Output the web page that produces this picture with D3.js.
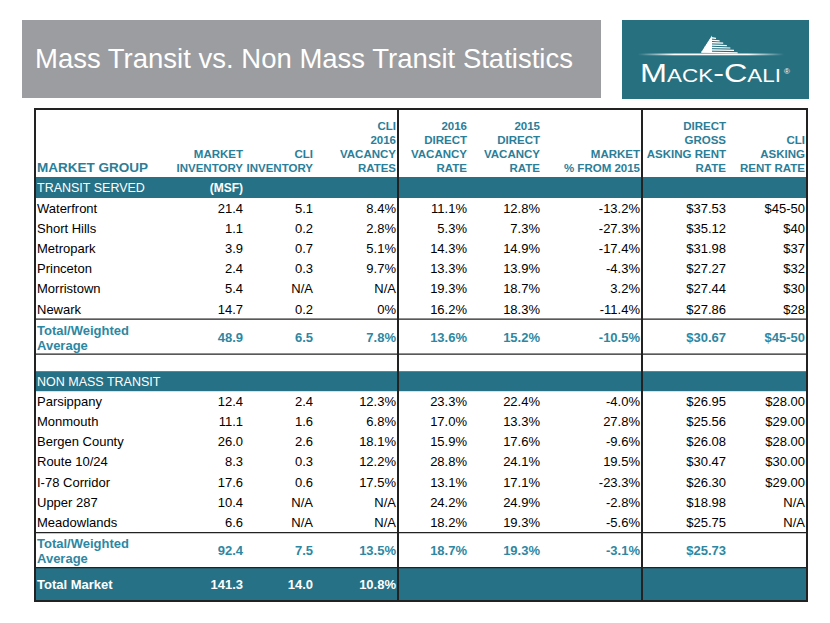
<!DOCTYPE html>
<html><head><meta charset="utf-8">
<script src="https://cdn.jsdelivr.net/npm/d3@7"></script>
<style>body{margin:0;background:#fff}svg{display:block}text{font-family:"Liberation Sans",Arial,sans-serif}</style>
</head><body><div id="c"></div>
<script>
const titleText = "Mass Transit vs. Non Mass Transit Statistics";
const columnKeys = ["mktInv","cliInv","cliVac","dir16","dir15","mktChg","grossRent","cliRent"];
const columnHeaders = [
  ["MARKET","INVENTORY"],
  ["CLI","INVENTORY"],
  ["CLI","2016","VACANCY","RATES"],
  ["2016","DIRECT","VACANCY","RATE"],
  ["2015","DIRECT","VACANCY","RATE"],
  ["MARKET","% FROM 2015"],
  ["DIRECT","GROSS","ASKING RENT","RATE"],
  ["CLI","ASKING","RENT RATE"]
];
// Transit served
const transitMarkets   = ["Waterfront","Short Hills","Metropark","Princeton","Morristown","Newark"];
const transitMktInv    = [21.4, 1.1, 3.9, 2.4, 5.4, 14.7];
const transitCliInv    = [5.1, 0.2, 0.7, 0.3, null, 0.2];
const transitCliVac    = ["8.4%","2.8%","5.1%","9.7%","N/A","0%"];
const transitDir16     = ["11.1%","5.3%","14.3%","13.3%","19.3%","16.2%"];
const transitDir15     = ["12.8%","7.3%","14.9%","13.9%","18.7%","18.3%"];
const transitMktChg    = ["-13.2%","-27.3%","-17.4%","-4.3%","3.2%","-11.4%"];
const transitGross     = ["$37.53","$35.12","$31.98","$27.27","$27.44","$27.86"];
const transitCliRent   = ["$45-50","$40","$37","$32","$30","$28"];
const transitTotal     = ["48.9","6.5","7.8%","13.6%","15.2%","-10.5%","$30.67","$45-50"];
// Non mass transit
const nonMarkets   = ["Parsippany","Monmouth","Bergen County","Route 10/24","I-78 Corridor","Upper 287","Meadowlands"];
const nonMktInv    = [12.4, 11.1, 26.0, 8.3, 17.6, 10.4, 6.6];
const nonCliInv    = [2.4, 1.6, 2.6, 0.3, 0.6, null, null];
const nonCliVac    = ["12.3%","6.8%","18.1%","12.2%","17.5%","N/A","N/A"];
const nonDir16     = ["23.3%","17.0%","15.9%","28.8%","13.1%","24.2%","18.2%"];
const nonDir15     = ["22.4%","13.3%","17.6%","24.1%","17.1%","24.9%","19.3%"];
const nonMktChg    = ["-4.0%","27.8%","-9.6%","19.5%","-23.3%","-2.8%","-5.6%"];
const nonGross     = ["$26.95","$25.56","$26.08","$30.47","$26.30","$18.98","$25.75"];
const nonCliRent   = ["$28.00","$29.00","$28.00","$30.00","$29.00","N/A","N/A"];
const nonTotal     = ["92.4","7.5","13.5%","18.7%","19.3%","-3.1%","$25.73",""];
const marketTotal  = ["141.3","14.0","10.8%","","","","",""];

const W = 830, H = 623;
const TEAL = "#267186", HEAD = "#2B7E98", TOT = "#2E87A2", GRAY = "#9B9DA0";
const fmt1 = d3.format(".1f");
const na = v => v == null ? "N/A" : fmt1(v);

function buildRows(names, inv, cli, vac, d16, d15, chg, gross, rent){
  return names.map((n,i)=>({name:n, vals:[fmt1(inv[i]), na(cli[i]), vac[i], d16[i], d15[i], chg[i], gross[i], rent[i]]}));
}
const transitRows = buildRows(transitMarkets, transitMktInv, transitCliInv, transitCliVac, transitDir16, transitDir15, transitMktChg, transitGross, transitCliRent);
const nonRows = buildRows(nonMarkets, nonMktInv, nonCliInv, nonCliVac, nonDir16, nonDir15, nonMktChg, nonGross, nonCliRent);

const svg = d3.select("#c").append("svg").attr("width",W).attr("height",H);

// Title bar
svg.append("rect").attr("x",22).attr("y",20).attr("width",579).attr("height",78).attr("fill",GRAY);
svg.append("text").attr("x",35).attr("y",68).attr("fill","#fff").attr("font-size",27.5).text(titleText);

// Logo
const lg = svg.append("g");
lg.append("rect").attr("x",622).attr("y",20).attr("width",187).attr("height",79).attr("fill","#27707F");
const grad = svg.append("defs").append("linearGradient").attr("id","lgLine");
grad.selectAll("stop").data([[0,0],[0.25,1],[0.75,1],[1,0]]).join("stop")
  .attr("offset",d=>d[0]).attr("stop-color","#fff").attr("stop-opacity",d=>d[1]);
lg.append("rect").attr("x",638).attr("y",53.5).attr("width",146).attr("height",1.8).attr("fill","url(#lgLine)");
// building icon: left face + stacked stripes
lg.append("path").attr("d","M712,35.5 L701,52.5 L712,52.5Z").attr("fill","#fff");
const bStripes = d3.range(7);
lg.selectAll("path.b").data(bStripes).join("path").attr("class","b")
  .attr("d",i=>{const y=37+i*2.4; return `M${711-i*1.6},${y} L${716+i*3.6},${y+0.8} L${716+i*3.6},${y+2.0} L${711-i*1.6},${y+1.4}Z`;})
  .attr("fill","#fff");
lg.append("text").attr("x",640).attr("y",82).attr("fill","#fff")
  .attr("font-family","'Liberation Serif','DejaVu Serif',serif").attr("font-size",26)
  .style("font-variant","small-caps").attr("textLength",141).attr("lengthAdjust","spacingAndGlyphs").text("Mack-Cali");
lg.append("text").attr("x",784).attr("y",74).attr("fill","#fff").attr("font-size",8).text("®");

// Table geometry
const L = 35, R = 807, T = 109, B = 601;
const colX = d3.scaleOrdinal().domain(columnKeys).range([243,313,396,467,540,640,726,805]);
const rowH = 20.2;
const fs = 13;

// Header
const hdr = svg.append("g");
columnHeaders.forEach((lines,ci)=>{
  const x = colX(columnKeys[ci]);
  lines.forEach((ln,li)=>{
    hdr.append("text").attr("x",x).attr("y",172 - (lines.length-1-li)*14)
      .attr("text-anchor","end").attr("font-weight","bold").attr("font-size",11.5).attr("fill",HEAD).text(ln);
  });
});
hdr.append("text").attr("x",37).attr("y",172).attr("font-weight","bold").attr("font-size",13.5).attr("fill",HEAD).text("MARKET GROUP");

// Bands
function band(y0,h,label,extra){
  svg.append("rect").attr("x",L).attr("y",y0).attr("width",R-L).attr("height",h).attr("fill",TEAL);
  svg.append("text").attr("x",37).attr("y",y0+h/2+4.5).attr("fill","#fff").attr("font-size",12.5).text(label);
  if(extra) svg.append("text").attr("x",colX("mktInv")).attr("y",y0+h/2+4.5).attr("text-anchor","end")
    .attr("fill","#fff").attr("font-weight","bold").attr("font-size",12).text(extra);
}
band(177,21,"TRANSIT SERVED","(MSF)");

function drawRows(rows, y0){
  rows.forEach((r,i)=>{
    const yc = y0 + i*rowH + rowH/2 + 4.5;
    svg.append("text").attr("x",37).attr("y",yc).attr("font-size",fs).attr("fill","#000").text(r.name);
    r.vals.forEach((v,ci)=>{
      svg.append("text").attr("x",colX(columnKeys[ci])).attr("y",yc).attr("text-anchor","end")
        .attr("font-size",fs).attr("fill","#000").text(v);
    });
  });
  return y0 + rows.length*rowH;
}
function totalRow(y0,h,vals){
  const yc = y0 + h/2;
  svg.append("text").attr("x",37).attr("y",yc-2).attr("font-weight","bold").attr("font-size",13).attr("fill",TOT).text("Total/Weighted");
  svg.append("text").attr("x",37).attr("y",yc+13).attr("font-weight","bold").attr("font-size",13).attr("fill",TOT).text("Average");
  vals.forEach((v,ci)=>{
    svg.append("text").attr("x",colX(columnKeys[ci])).attr("y",yc+5).attr("text-anchor","end")
      .attr("font-weight","bold").attr("font-size",13).attr("fill",TOT).text(v);
  });
}
const y1 = drawRows(transitRows, 198);
totalRow(y1, 35, transitTotal);
const yBand2 = y1 + 35 + 17;
band(yBand2, 20, "NON MASS TRANSIT");
const y2 = drawRows(nonRows, yBand2+20);
totalRow(y2, 35, nonTotal);
const y3 = y2 + 35;
svg.append("rect").attr("x",L).attr("y",y3).attr("width",R-L).attr("height",B-y3).attr("fill",TEAL);
svg.append("text").attr("x",37).attr("y",(y3+B)/2+5).attr("font-weight","bold").attr("font-size",13).attr("fill","#fff").text("Total Market");
marketTotal.forEach((v,ci)=>{
  svg.append("text").attr("x",colX(columnKeys[ci])).attr("y",(y3+B)/2+5).attr("text-anchor","end")
    .attr("font-weight","bold").attr("font-size",13).attr("fill","#fff").text(v);
});

// Lines
const ln = svg.append("g").attr("stroke","#222");
[y1, y1+35, y2, y3].forEach(y=>ln.append("line").attr("x1",L).attr("x2",R).attr("y1",y).attr("y2",y).attr("stroke-width",1.3));
[398,642].forEach(x=>ln.append("line").attr("x1",x).attr("x2",x).attr("y1",T).attr("y2",B).attr("stroke-width",2));
ln.append("rect").attr("x",L).attr("y",T).attr("width",R-L).attr("height",B-T).attr("fill","none").attr("stroke-width",2);
</script></body></html>
